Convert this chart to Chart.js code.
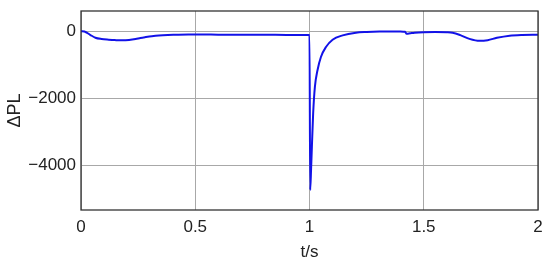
<!DOCTYPE html>
<html>
<head>
<meta charset="utf-8">
<script src="https://cdn.jsdelivr.net/npm/chart.js@4"></script>
<style>
  html, body { margin: 0; padding: 0; background: #fff; }
  #wrap { width: 550px; height: 267px; }
</style>
</head>
<body>
<div id="wrap"><canvas id="c" width="550" height="267"></canvas></div>
<script>
// time (s) and ΔPL values
const tValues = [0, 0.015, 0.04, 0.063, 0.09, 0.121, 0.15, 0.18, 0.21, 0.239, 0.26, 0.283, 0.31, 0.341, 0.38, 0.414, 0.47, 0.52, 0.6, 0.7, 0.8, 0.9, 1.0,
  1.003, 1.007, 1.0105, 1.016, 1.0236, 1.035, 1.05, 1.072, 1.101, 1.145, 1.203, 1.25, 1.306, 1.36, 1.41, 1.418, 1.425, 1.44, 1.46, 1.5, 1.55, 1.6,
  1.626, 1.66, 1.7, 1.744, 1.78, 1.82, 1.876, 1.93, 2.0];
const plValues = [0, -10, -110, -197, -235, -255, -268, -275, -265, -237, -205, -178, -150, -127, -112, -107, -100, -98, -105, -110, -110, -112, -112,
  -4740, -4100, -3440, -2450, -1660, -1165, -770, -474, -256, -127, -47, -25, -12, -10, -15, -20, -80, -65, -45, -30, -28, -35,
  -50, -120, -230, -290, -270, -200, -135, -112, -105];
const xTicks = [0, 0.5, 1, 1.5, 2];
const yTicks = [-4000, -2000, 0];

const FONT = 'Liberation Sans, Arial, sans-serif';

const frame = {
  id: 'frame',
  afterDraw(chart) {
    const a = chart.chartArea, ctx = chart.ctx;
    ctx.save();
    ctx.strokeStyle = '#333';
    ctx.lineWidth = 1.3;
    ctx.strokeRect(a.left, a.top, a.right - a.left, a.bottom - a.top);
    ctx.restore();
  }
};

new Chart(document.getElementById('c'), {
  type: 'line',
  data: {
    datasets: [{
      data: tValues.map((t, i) => ({ x: t, y: plValues[i] })),
      borderColor: '#1212e8',
      borderWidth: 2,
      pointRadius: 0,
      fill: false,
      cubicInterpolationMode: 'monotone'
    }]
  },
  options: {
    responsive: false,
    animation: false,
    layout: { padding: { left: 0, right: 12, top: 11, bottom: 0 } },
    plugins: { legend: { display: false }, tooltip: { enabled: false } },
    scales: {
      x: {
        type: 'linear',
        min: 0, max: 2,
        afterBuildTicks: s => { s.ticks = xTicks.map(v => ({ value: v })); },
        afterFit: s => { s.height = 57; s.paddingLeft = 0; s.paddingRight = 0; },
        grid: { color: '#a8a8a8', lineWidth: 1, drawTicks: false },
        border: { display: false },
        ticks: { color: '#222', font: { family: FONT, size: 17 }, padding: 7, maxRotation: 0, callback: v => String(v) },
        title: { display: true, text: 't/s', color: '#222', font: { family: FONT, size: 17 }, padding: { top: 0 } }
      },
      y: {
        type: 'linear',
        min: -5333, max: 600,
        afterBuildTicks: s => { s.ticks = yTicks.map(v => ({ value: v })); },
        afterFit: s => { s.width = 81; s.paddingTop = 0; s.paddingBottom = 0; },
        grid: { color: '#a8a8a8', lineWidth: 1, drawTicks: false },
        border: { display: false },
        ticks: {
          color: '#222', font: { family: FONT, size: 17 }, padding: 5,
          callback: v => String(v).replace('-', '\u2212')
        },
        title: { display: true, text: 'ΔPL', color: '#222', font: { family: FONT, size: 18 }, padding: { bottom: 0 } }
      }
    }
  },
  plugins: [frame]
});
</script>
</body>
</html>
